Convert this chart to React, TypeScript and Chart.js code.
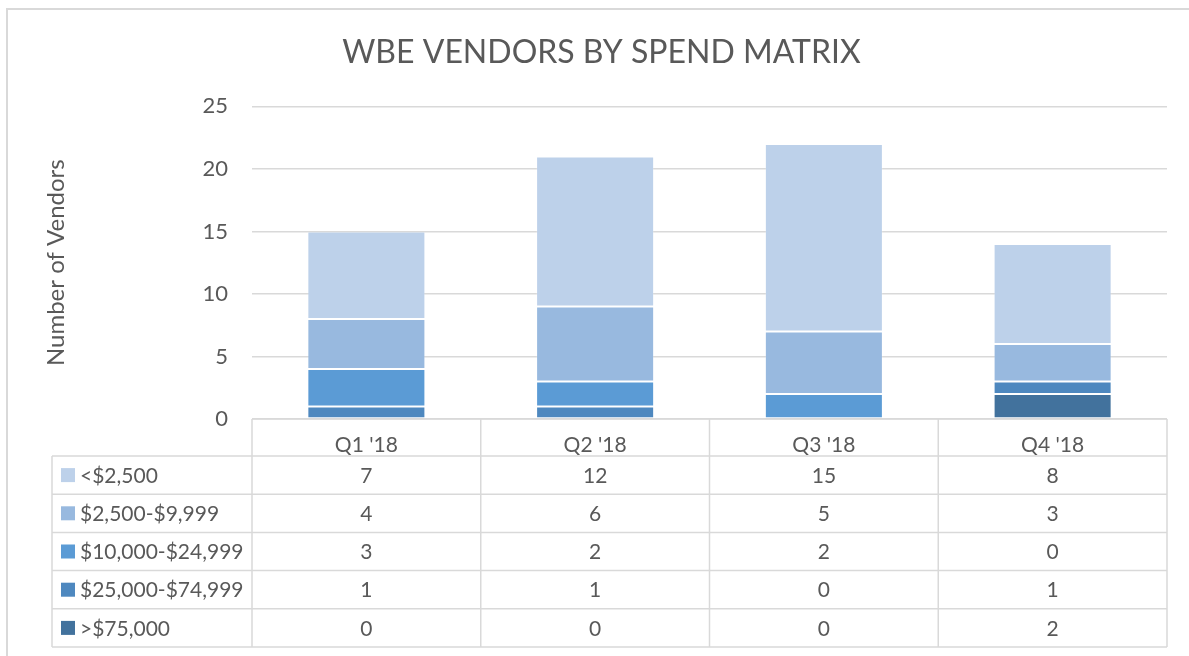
import React, { useEffect, useRef } from "react";
import { Chart, registerables } from "chart.js";

Chart.register(...registerables);

const categories = ["Q1 '18", "Q2 '18", "Q3 '18", "Q4 '18"];
const seriesLabels = ["<$2,500", "$2,500-$9,999", "$10,000-$24,999", "$25,000-$74,999", ">$75,000"];
const under2500 = [7, 12, 15, 8];
const from2500to9999 = [4, 6, 5, 3];
const from10000to24999 = [3, 2, 2, 0];
const from25000to74999 = [1, 1, 0, 1];
const over75000 = [0, 0, 0, 2];
const seriesColors = ["#bdd1ea", "#98b9df", "#5b9bd5", "#4e88bf", "#42729d"];
const yTicks = [0, 5, 10, 15, 20, 25];

const FONT = "Lato, 'Open Sans', 'Noto Sans', sans-serif";
const TEXT = "#595959";
const LINE = "#d9d9d9";

const tablePlugin = {
  id: "dataTable",
  beforeDraw(chart: any) {
    const ctx = chart.ctx;
    ctx.save();
    ctx.fillStyle = "#ffffff";
    ctx.fillRect(0, 0, chart.width, chart.height);
    ctx.fillStyle = LINE;
    ctx.fillRect(6, 8, chart.width - 6, 2);
    ctx.fillRect(6, 8, 2, chart.height - 8);
    ctx.restore();
  },
  afterDraw(chart: any) {
    const ctx = chart.ctx;
    const area = chart.chartArea;
    const xs = chart.scales.x;
    const n = categories.length;
    const colW = (area.right - area.left) / n;
    const headerTop = area.bottom;
    const headerBottom = headerTop + 37;
    const rowH = 38.2;
    const legendLeft = 52;
    const rows = chart.data.datasets.slice().reverse();
    const tableBottom = headerBottom + rows.length * rowH;

    ctx.save();
    ctx.strokeStyle = LINE;
    ctx.lineWidth = 1.5;
    ctx.beginPath();
    ctx.moveTo(area.left, headerTop);
    ctx.lineTo(area.right, headerTop);
    for (let r = 0; r <= rows.length; r++) {
      const y = headerBottom + r * rowH;
      ctx.moveTo(legendLeft, y);
      ctx.lineTo(area.right, y);
    }
    ctx.moveTo(legendLeft, headerBottom);
    ctx.lineTo(legendLeft, tableBottom);
    for (let c = 0; c <= n; c++) {
      const x = area.left + c * colW;
      ctx.moveTo(x, headerTop);
      ctx.lineTo(x, tableBottom);
    }
    ctx.stroke();

    ctx.font = `21px ${FONT}`;
    ctx.textBaseline = "middle";
    rows.forEach((ds: any, r: number) => {
      const cy = headerBottom + r * rowH + rowH / 2;
      ctx.fillStyle = ds.backgroundColor;
      ctx.fillRect(61, cy - 7, 14, 14);
      ctx.fillStyle = TEXT;
      ctx.textAlign = "left";
      ctx.fillText(ds.label, 80, cy + 1);
      ctx.textAlign = "center";
      ds.data.forEach((v: number, i: number) => {
        ctx.fillText(String(v), xs.getPixelForValue(i), cy + 1);
      });
    });
    ctx.restore();
  },
};

export default function App() {
  const ref = useRef<HTMLCanvasElement>(null);
  useEffect(() => {
    if (!ref.current) return;
    const seriesData = [under2500, from2500to9999, from10000to24999, from25000to74999, over75000];
    const datasets = seriesLabels
      .map((label, i) => ({
        label,
        data: seriesData[i],
        backgroundColor: seriesColors[i],
        borderColor: "rgba(255,255,255,0.18)",
        borderWidth: 1,
        borderSkipped: false,
        barPercentage: 0.516,
        categoryPercentage: 1,
      }))
      .reverse();
    const chart = new Chart(ref.current, {
      type: "bar",
      data: { labels: categories, datasets },
      plugins: [tablePlugin],
      options: {
        responsive: false,
        animation: false,
        layout: { padding: { top: 10, left: 36, right: 22, bottom: 0 } },
        plugins: {
          legend: { display: false },
          tooltip: { enabled: false },
          title: {
            display: true,
            text: "WBE VENDORS BY SPEND MATRIX",
            color: TEXT,
            font: { family: FONT, size: 32, weight: "normal" },
            padding: { top: 23, bottom: 35 },
          },
        },
        scales: {
          x: {
            stacked: true,
            grid: { display: false },
            border: { display: false },
            ticks: { color: TEXT, font: { family: FONT, size: 21 }, padding: 6 },
            afterFit: (s: any) => {
              s.height = 237;
            },
          },
          y: {
            stacked: true,
            min: 0,
            max: 25,
            afterBuildTicks: (s: any) => {
              s.ticks = yTicks.map((v) => ({ value: v }));
            },
            grid: { color: LINE, lineWidth: 1.5, drawTicks: false },
            border: { display: false },
            ticks: { color: TEXT, font: { family: FONT, size: 22 }, padding: 24 },
            title: {
              display: true,
              text: "Number of Vendors",
              color: TEXT,
              font: { family: FONT, size: 24 },
              padding: { top: 6, bottom: 0 },
            },
            afterFit: (s: any) => {
              s.width = 216;
            },
          },
        },
      },
    });
    return () => chart.destroy();
  }, []);
  return (
    <canvas
      ref={ref}
      width={1189}
      height={656}
      style={{ position: "fixed", left: 0, top: 0, display: "block" }}
    />
  );
}
